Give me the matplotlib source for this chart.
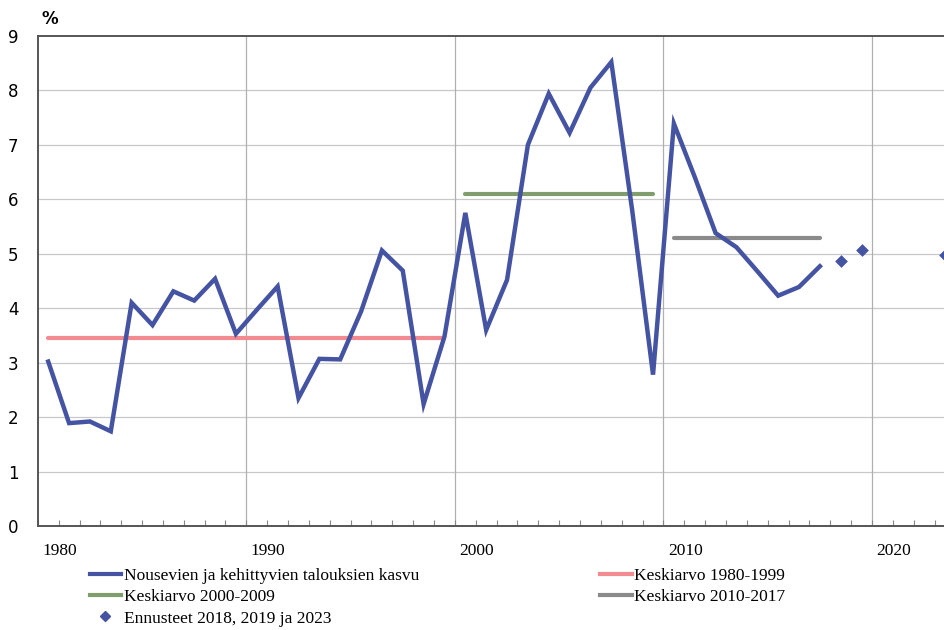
import numpy as np
import matplotlib
matplotlib.use("Agg")
import matplotlib.pyplot as plt
from matplotlib.lines import Line2D

plt.rcParams.update({
    "font.family": ["Liberation Serif", "DejaVu Serif"],
    "font.size": 12,
})

# data
years = list(range(1980, 2018))
growth = [3.02, 1.89, 1.92, 1.74, 4.10, 3.69, 4.31, 4.14, 4.54, 3.53,
          3.97, 4.40, 2.35, 3.07, 3.06, 3.94, 5.06, 4.69, 2.24, 3.48,
          5.75, 3.60, 4.52, 7.00, 7.94, 7.22, 8.05, 8.52, 5.80, 2.78,
          7.39, 6.41, 5.38, 5.12, 4.68, 4.23, 4.39, 4.77]
fc_years = [2018, 2019, 2023]
fc_values = [4.87, 5.07, 4.98]
avg_periods = [(1980, 1999), (2000, 2009), (2010, 2017)]
avg_values = [3.45, 6.10, 5.29]
label_years = [1980, 1990, 2000, 2010, 2020]

BLUE = "#4553a3"
PINK = "#f28a90"
GREEN = "#7f9e6c"
GREYL = "#8a8a8a"
avg_colors = [PINK, GREEN, GREYL]
avg_labels = ["Keskiarvo 1980-1999", "Keskiarvo 2000-2009", "Keskiarvo 2010-2017"]

fig = plt.figure(figsize=(9.45, 6.3), dpi=100)
ax = fig.add_axes([0.040, 0.165, 0.96, 0.778])

ax.plot(years, growth, color=BLUE, lw=3.2, zorder=4, solid_joinstyle="miter")
for (a, b), v, c in zip(avg_periods, avg_values, avg_colors):
    ax.plot([a, b], [v, v], color=c, lw=3.0, zorder=3, solid_capstyle="round")
ax.scatter(fc_years, fc_values, marker="D", s=42, color=BLUE, zorder=5,
           clip_on=True, linewidths=0)

ax.set_xlim(1979.5, 2023.0)
ax.set_ylim(0, 9)
ax.set_yticks(range(0, 10))
for y in range(1, 9):
    ax.axhline(y, color="#c8c8c8", lw=0.9, zorder=1)
for x in [1989.5, 1999.5, 2009.5, 2019.5]:
    ax.axvline(x, color="#b0b0b0", lw=0.9, zorder=1)

ax.set_xticks([y + 0.55 for y in label_years])
ax.set_xticklabels([str(y) for y in label_years])
ax.set_xticks(np.arange(1979.5, 2023.0, 1.0), minor=True)
ax.tick_params(axis="x", which="major", length=0, pad=12, labelsize=12.5)
ax.tick_params(axis="x", which="minor", direction="in", length=4,
               color="#888888", width=0.8)
ax.tick_params(axis="y", length=0, pad=14, labelsize=13)
for lbl in ax.get_yticklabels():
    lbl.set_fontfamily(["DejaVu Sans"])
    lbl.set_fontsize(12)

for s in ("left", "bottom", "top"):
    ax.spines[s].set_color("#555555")
    ax.spines[s].set_linewidth(1.4)
ax.spines["right"].set_visible(False)

fig.text(0.044, 0.962, "%", fontsize=12, weight="bold", family="DejaVu Sans")

handles = [
    Line2D([], [], color=BLUE, lw=3),
    Line2D([], [], color=GREEN, lw=3),
    Line2D([], [], color=BLUE, marker="D", ls="none", markersize=5),
    Line2D([], [], color=PINK, lw=3),
    Line2D([], [], color=GREYL, lw=3),
]
labels = ["Nousevien ja kehittyvien talouksien kasvu", avg_labels[1],
          "Ennusteet 2018, 2019 ja 2023", avg_labels[0], avg_labels[2]]
fig.legend(handles, labels, ncol=2, loc="upper left",
           bbox_to_anchor=(0.095, 0.099), frameon=False,
           handlelength=1.8, handletextpad=0.15, columnspacing=10.45,
           labelspacing=0.3, borderaxespad=0, borderpad=0, fontsize=12.5)

fig.savefig("out.png", dpi=100)
